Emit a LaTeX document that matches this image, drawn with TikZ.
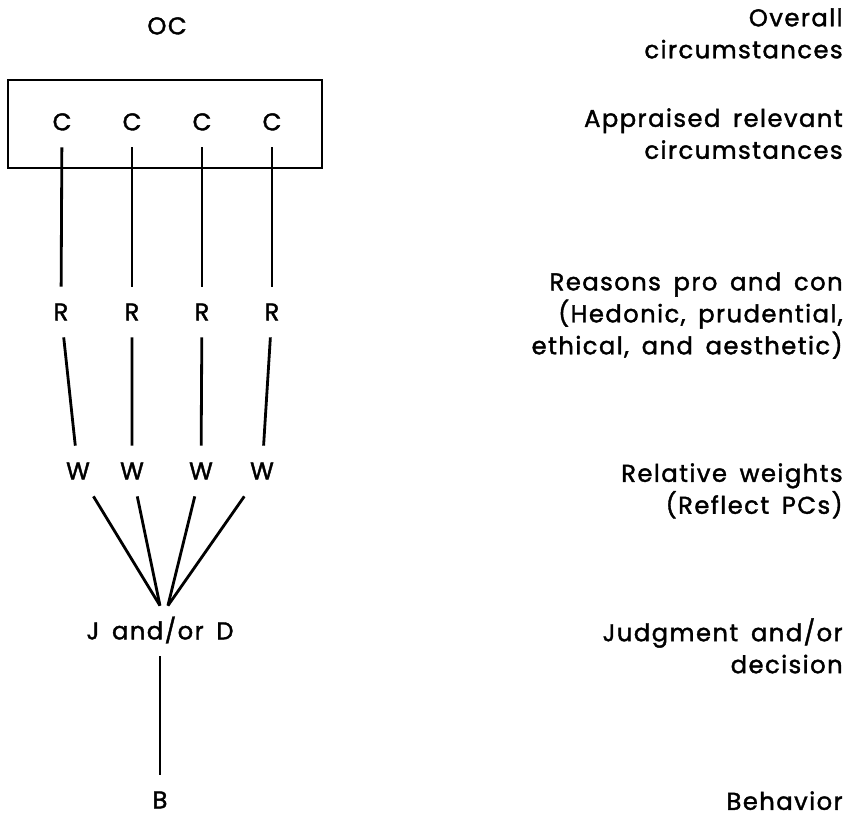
\documentclass[tikz,border=0pt]{standalone}
\usepackage{fontspec}
\setmainfont{Poppins}[LetterSpace=6, WordSpace=1.6, FakeBold=1.6]
\usetikzlibrary{positioning}

\begin{document}
\begin{tikzpicture}[x=0.02cm,y=-0.02cm,node distance=1.4cm,on grid]
	\tikzstyle{lbl}
	  =[inner sep=0pt, outer sep=0.34cm, text height=9.5pt, text depth=0pt, font=\fontsize{13.8}{18.2}\selectfont]
	\tikzstyle{desc}
	  =[inner sep=0pt, align=right, anchor=north east, font=\fontsize{13.8}{18.2}\selectfont]
	\tikzstyle{link}
	  =[line width=1.6pt]

	\useasboundingbox (0,0) rectangle (851,816);

	\node[lbl] (oc) at (167,26) {OC};

	\node[draw, line width=1.2pt, minimum width=6.28cm, minimum height=1.76cm, inner sep=0pt] (box)
	  at (165,124) {};

	\node[lbl] (c1) at (62,122) {C};
	\node[lbl] (c2) [right=of c1] {C};
	\node[lbl] (c3) [right=of c2] {C};
	\node[lbl] (c4) [right=of c3] {C};

	\node[lbl] (r1) at (61,312) {R};
	\node[lbl] (r2) [right=1.42cm of r1] {R};
	\node[lbl] (r3) [right=of r2] {R};
	\node[lbl] (r4) [right=of r3] {R};

	\node[lbl] (w1) at (78,471) {W};
	\node[lbl] (w2) at (132,471) {W};
	\node[lbl] (w3) at (201,471) {W};
	\node[lbl] (w4) at (262,471) {W};

	\node[lbl] (jd) at (160,631) {J and/or D};
	\node[lbl] (b) at (160,800) {B};

	% descriptions on the right
	\node[desc] (d_oc) at (843,8) {Overall\\circumstances};
	\node[desc] (d_c) at (843,108) {Appraised relevant\\circumstances};
	\node[desc] (d_r) at (843,272) {Reasons pro and con\\(Hedonic, prudential,\\ethical, and aesthetic)};
	\node[desc] (d_w) at (843,463) {Relative weights\\(Reflect PCs)};
	\node[desc] (d_jd) at (843,618) {Judgment and/or\\decision};
	\node[desc] (d_b) at (843,791) {Behavior};

	\draw[link] (c1)--(r1);
	\draw[link] (c2)--(r2);
	\draw[link] (c3)--(r3);
	\draw[link] (c4)--(r4);

	\draw[link] (r1)--(w1);
	\draw[link] (r2)--(w2);
	\draw[link] (r3)--(w3);
	\draw[link] (r4)--(w4);

	\draw[link] (w1)--(jd.north);
	\draw[link] (w2)--(jd.north);
	\draw[link] (w3)--([xshift=4.5pt]jd.north);
	\draw[link] (w4)--([xshift=4.5pt]jd.north);

	\draw[link] (jd)--(b);
\end{tikzpicture}
\end{document}
